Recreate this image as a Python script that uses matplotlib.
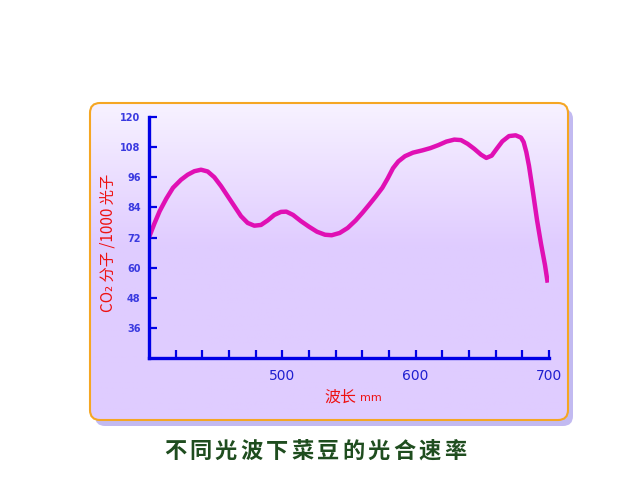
import numpy as np
import matplotlib
matplotlib.use("Agg")
import matplotlib.pyplot as plt
from matplotlib.patches import FancyBboxPatch

plt.rcParams['font.family'] = ['Noto Sans CJK SC', 'DejaVu Sans']

# wavelength (nm) vs CO2 molecules per 1000 photons
wavelength = [400, 404, 408, 413, 418, 424, 429, 434, 439, 444, 449, 454, 459, 464,
              469, 474, 479, 484, 489, 494, 499, 503, 508, 514, 520, 526, 532, 537,
              543, 549, 555, 560, 565, 570, 575, 579, 583, 587, 592, 598, 605, 611,
              617, 623, 629, 634, 639, 644, 649, 653, 657, 661, 665, 670, 675, 679,
              681, 683, 685, 688, 691, 694, 697, 699]
rate = [72, 77.5, 82.5, 87.5, 91.8, 95, 97, 98.4, 99, 98.3, 96, 92.5, 88.5, 84.5,
        80.5, 77.8, 76.7, 77, 78.8, 81, 82.2, 82.3, 81, 78.5, 76.3, 74.3, 73.1, 72.9,
        73.8, 75.8, 78.8, 81.8, 85, 88.3, 91.8, 95.5, 99.6, 102.3, 104.4, 105.8, 106.7, 107.6,
        108.8, 110.2, 111, 110.8, 109.3, 107.3, 105, 103.7, 104.6, 107.5, 110.3, 112.4, 112.7, 111.8,
        110, 106, 100.5, 90, 79, 69.5, 61, 54]

y_ticks = [36, 48, 60, 72, 84, 96, 108, 120]
x_ticks = list(range(420, 701, 20))
x_labels = {500: "500", 600: "600", 700: "700"}
title = "不同光波下菜豆的光合速率"

W, H = 640, 480
fig = plt.figure(figsize=(6.4, 4.8), dpi=100)
fig.patch.set_facecolor("white")

# background panel, drawn in pixel coordinates
bg = fig.add_axes([0, 0, 1, 1])
bg.set_xlim(0, W)
bg.set_ylim(H, 0)
bg.axis("off")

px0, py0, px1, py1 = 90, 103, 568, 420
shadow = FancyBboxPatch((px0 + 5, py0 + 6), px1 - px0, py1 - py0,
                        boxstyle="round,pad=0,rounding_size=10",
                        fc="#9a8ce8", ec="none", alpha=0.6, zorder=1)
bg.add_patch(shadow)
panel = FancyBboxPatch((px0, py0), px1 - px0, py1 - py0,
                       boxstyle="round,pad=0,rounding_size=10",
                       fc="none", ec="#f5a623", lw=1.5, zorder=3)
bg.add_patch(panel)
grad = np.linspace(0, 1, 256)
grad = np.clip(grad / 0.45, 0, 1)
top = np.array([0.97, 0.95, 1.0])
bottom = np.array([0.878, 0.80, 1.0])
img = top[None, :] * (1 - grad[:, None]) + bottom[None, :] * grad[:, None]
img = np.repeat(img[:, None, :], 2, axis=1)
im = bg.imshow(img, extent=(px0, px1, py1, py0), aspect="auto", zorder=2)
clip = FancyBboxPatch((px0, py0), px1 - px0, py1 - py0,
                      boxstyle="round,pad=0,rounding_size=10",
                      fc="none", ec="none", transform=bg.transData)
im.set_clip_path(clip)

# title, spread out like the original
for i, ch in enumerate(title):
    bg.text(175 + i * 25.45, 451, ch, color="#1f4d1f", fontsize=16,
            fontweight="bold", ha="center", va="center")

# main chart
ax = fig.add_axes([149 / W, 1 - 358 / H, 400 / W, (358 - 117) / H])
ax.set_facecolor("none")
ax.plot(wavelength, rate, color="#e010b4", lw=3.2, solid_capstyle="butt",
        solid_joinstyle="round")
ax.set_xlim(400, 700)
ax.set_ylim(24, 120)

blue = "#0000e6"
for s in ["top", "right"]:
    ax.spines[s].set_visible(False)
for s in ["left", "bottom"]:
    ax.spines[s].set_color(blue)
    ax.spines[s].set_linewidth(2.4)

ax.set_yticks(y_ticks)
ax.set_yticklabels([str(v) for v in y_ticks], color="#3a3ae0", fontsize=7,
                   fontweight="bold", family="DejaVu Sans")
ax.set_xticks(x_ticks)
ax.set_xticklabels([x_labels.get(v, "") for v in x_ticks], color="#2020d0",
                   fontsize=10, family="DejaVu Sans")
ax.tick_params(axis="both", direction="in", color=blue, width=1.6, length=6)
ax.tick_params(axis="y", pad=6)
ax.tick_params(axis="x", pad=8)

fig.text(108 / W, 1 - 243 / H, "CO₂ 分子 /1000 光子", color="#ee1111",
         fontsize=11, rotation=90, ha="center", va="center")
fig.text(356 / W, 1 - 397 / H, "波长", color="#ee1111", fontsize=11.5,
         ha="right", va="center")
fig.text(360 / W, 1 - 398 / H, "mm", color="#ee1111", fontsize=8,
         ha="left", va="center", family="DejaVu Sans")

fig.savefig("out.png", dpi=100)
